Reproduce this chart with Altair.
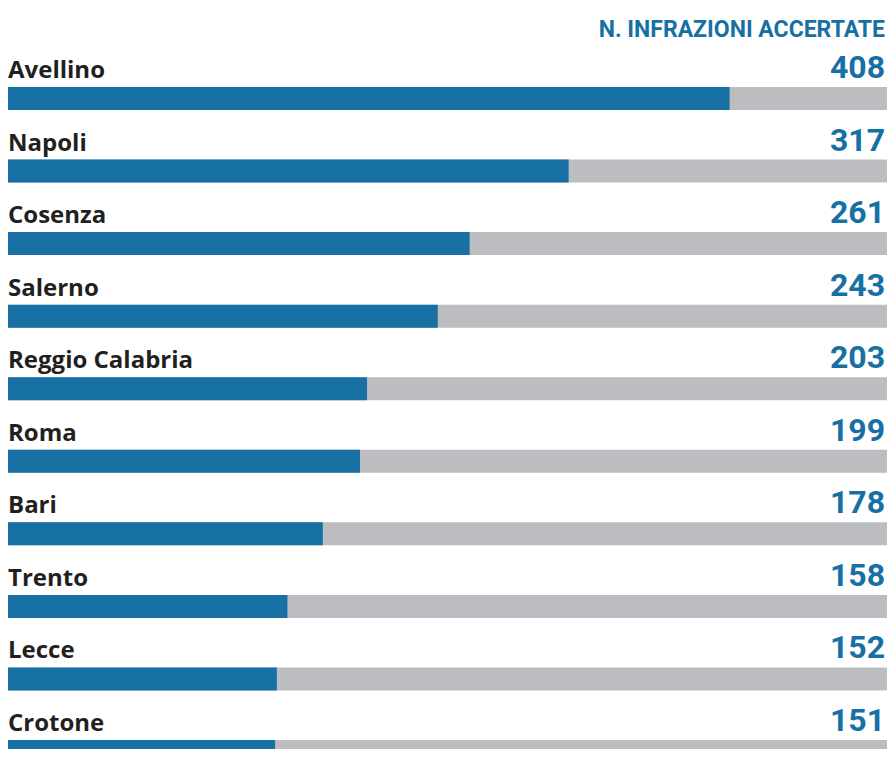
import altair as alt
import pandas as pd

cities = ["Avellino", "Napoli", "Cosenza", "Salerno", "Reggio Calabria",
          "Roma", "Bari", "Trento", "Lecce", "Crotone"]
values = [408, 317, 261, 243, 203, 199, 178, 158, 152, 151]
scale_max = 497
title_text = "N. INFRAZIONI ACCERTATE"

BLUE = "#1670a4"
GREY = "#bcbdc0"
DARK = "#231f20"
NUM_FONT = "Roboto"
LABEL_FONT = "Open Sans"

df = pd.DataFrame({"city": cities, "value": values, "full": [scale_max] * len(cities)})

xscale = alt.Scale(domain=[0, scale_max], nice=False, zero=True)
y = alt.Y("city:N", sort=cities,
          scale=alt.Scale(range=[79, 755], paddingInner=0.683, paddingOuter=0),
          axis=None)

base = alt.Chart(df)

grey = base.mark_bar(color=GREY).encode(
    x=alt.X("full:Q", scale=xscale, axis=None), y=y)
blue = base.mark_bar(color=BLUE).encode(
    x=alt.X("value:Q", scale=xscale, axis=None), y=y)
labels = base.mark_text(align="left", baseline="alphabetic", dy=-20.5,
                        font=LABEL_FONT, fontSize=24, fontWeight="bold",
                        color=DARK).encode(x=alt.value(0), y=y, text="city:N")
nums = base.mark_text(align="right", baseline="alphabetic", dy=-20.5,
                      font=NUM_FONT, fontSize=32, fontWeight="bold",
                      color=BLUE).encode(x=alt.value(877), y=y, text="value:Q")
title = alt.Chart(pd.DataFrame({"t": [title_text]})).mark_text(
    align="right", baseline="alphabetic", font=NUM_FONT, fontSize=23,
    fontWeight="bold", color=BLUE).encode(
    x=alt.value(877), y=alt.value(29), text="t:N")

chart = alt.layer(grey, blue, labels, nums, title).properties(
    width=879, height=741,
    autosize=alt.AutoSizeParams(type="none"),
    padding=0,
).configure_view(stroke=None)

chart.save("out.html", embed_options={"renderer": "svg", "actions": False})
